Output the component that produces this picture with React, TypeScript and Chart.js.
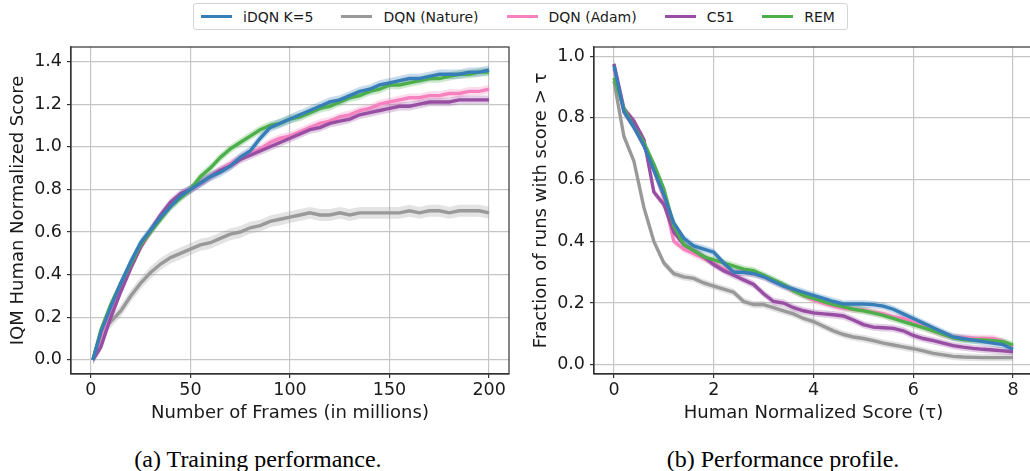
import React, { useEffect, useRef } from "react";
import { Chart, registerables } from "chart.js";
Chart.register(...registerables);

// ---------- data ----------
const SERIES_NAMES = ["iDQN K=5", "DQN (Nature)", "DQN (Adam)", "C51", "REM"];

const X_FRAMES = [1, 5, 10, 15, 20, 25, 30, 35, 40, 45, 50, 55, 60, 65, 70, 75, 80, 85, 90, 95, 100,
  105, 110, 115, 120, 125, 130, 135, 140, 145, 150, 155, 160, 165, 170, 175, 180, 185, 190, 195, 200];
const IQM_IDQN = [0.00, 0.13, 0.25, 0.36, 0.46, 0.55, 0.61, 0.67, 0.72, 0.77, 0.80, 0.83, 0.86, 0.88, 0.91, 0.95, 0.98, 1.04, 1.09, 1.11, 1.13,
  1.15, 1.17, 1.19, 1.21, 1.22, 1.24, 1.26, 1.27, 1.29, 1.30, 1.31, 1.32, 1.32, 1.33, 1.34, 1.34, 1.34, 1.35, 1.35, 1.36];
const IQM_NATURE = [0.00, 0.13, 0.18, 0.23, 0.30, 0.36, 0.41, 0.45, 0.48, 0.50, 0.52, 0.54, 0.55, 0.57, 0.59, 0.60, 0.62, 0.63, 0.65, 0.66, 0.67,
  0.68, 0.69, 0.68, 0.68, 0.69, 0.68, 0.69, 0.69, 0.69, 0.69, 0.69, 0.70, 0.69, 0.70, 0.70, 0.69, 0.70, 0.70, 0.70, 0.69];
const IQM_ADAM = [0.00, 0.10, 0.23, 0.34, 0.44, 0.53, 0.60, 0.67, 0.73, 0.77, 0.80, 0.83, 0.86, 0.89, 0.92, 0.95, 0.97, 0.99, 1.02, 1.04, 1.05,
  1.07, 1.09, 1.11, 1.12, 1.14, 1.15, 1.17, 1.18, 1.20, 1.21, 1.22, 1.23, 1.23, 1.24, 1.24, 1.25, 1.25, 1.26, 1.26, 1.27];
const IQM_C51 = [0.00, 0.06, 0.20, 0.32, 0.43, 0.53, 0.61, 0.68, 0.74, 0.78, 0.80, 0.83, 0.86, 0.89, 0.91, 0.94, 0.96, 0.98, 1.00, 1.02, 1.04,
  1.06, 1.08, 1.09, 1.11, 1.12, 1.13, 1.15, 1.16, 1.17, 1.18, 1.19, 1.19, 1.20, 1.21, 1.21, 1.21, 1.22, 1.22, 1.22, 1.22];
const IQM_REM = [0.00, 0.14, 0.26, 0.36, 0.45, 0.54, 0.60, 0.66, 0.72, 0.76, 0.80, 0.86, 0.90, 0.95, 0.99, 1.02, 1.05, 1.08, 1.10, 1.11, 1.13,
  1.14, 1.16, 1.18, 1.19, 1.21, 1.23, 1.24, 1.26, 1.27, 1.29, 1.29, 1.30, 1.31, 1.32, 1.32, 1.33, 1.34, 1.34, 1.35, 1.35];
// half-width of the shaded confidence band, per series (IDQN, NATURE, ADAM, C51, REM)
const IQM_CI = [0.022, 0.028, 0.02, 0.02, 0.02];

const TAU = [0, 0.2, 0.4, 0.6, 0.8, 1.0, 1.2, 1.4, 1.6, 1.8, 2.0, 2.2, 2.4, 2.6, 2.8, 3.0, 3.2, 3.4, 3.6, 3.8, 4.0,
  4.2, 4.4, 4.6, 4.8, 5.0, 5.2, 5.4, 5.6, 5.8, 6.0, 6.2, 6.4, 6.6, 6.8, 7.0, 7.2, 7.4, 7.6, 7.8, 8.0];
const PROF_IDQN = [0.97, 0.82, 0.77, 0.71, 0.63, 0.55, 0.46, 0.41, 0.385, 0.375, 0.365, 0.33, 0.30, 0.30, 0.295, 0.285, 0.27, 0.255, 0.245, 0.235, 0.225,
  0.215, 0.205, 0.197, 0.197, 0.197, 0.195, 0.19, 0.18, 0.165, 0.15, 0.135, 0.12, 0.105, 0.09, 0.085, 0.08, 0.075, 0.07, 0.065, 0.05];
const PROF_NATURE = [0.92, 0.74, 0.66, 0.51, 0.40, 0.33, 0.295, 0.285, 0.28, 0.265, 0.255, 0.245, 0.235, 0.205, 0.195, 0.195, 0.185, 0.175, 0.165, 0.15, 0.14,
  0.125, 0.11, 0.098, 0.09, 0.085, 0.078, 0.07, 0.064, 0.058, 0.052, 0.045, 0.037, 0.032, 0.027, 0.025, 0.024, 0.023, 0.023, 0.023, 0.023];
const PROF_ADAM = [0.96, 0.82, 0.77, 0.71, 0.63, 0.54, 0.40, 0.375, 0.36, 0.345, 0.33, 0.31, 0.30, 0.30, 0.295, 0.285, 0.27, 0.255, 0.24, 0.225, 0.21,
  0.20, 0.19, 0.183, 0.18, 0.178, 0.17, 0.165, 0.155, 0.15, 0.14, 0.125, 0.11, 0.098, 0.09, 0.088, 0.086, 0.085, 0.085, 0.075, 0.058];
const PROF_C51 = [0.975, 0.83, 0.79, 0.73, 0.56, 0.52, 0.43, 0.39, 0.37, 0.35, 0.325, 0.305, 0.29, 0.275, 0.26, 0.23, 0.205, 0.20, 0.185, 0.175, 0.168,
  0.165, 0.162, 0.158, 0.145, 0.13, 0.122, 0.12, 0.118, 0.11, 0.095, 0.085, 0.078, 0.07, 0.062, 0.057, 0.053, 0.05, 0.048, 0.045, 0.042];
const PROF_REM = [0.93, 0.83, 0.77, 0.72, 0.65, 0.57, 0.45, 0.39, 0.37, 0.35, 0.34, 0.33, 0.32, 0.31, 0.305, 0.29, 0.275, 0.26, 0.24, 0.225, 0.215,
  0.205, 0.195, 0.188, 0.18, 0.175, 0.168, 0.16, 0.15, 0.14, 0.13, 0.12, 0.11, 0.098, 0.088, 0.082, 0.08, 0.08, 0.078, 0.075, 0.064];
const PROF_CI = [0.012, 0.012, 0.012, 0.012, 0.012];

const X_TICKS_LEFT = [0, 50, 100, 150, 200];
const Y_TICKS_LEFT = [0.0, 0.2, 0.4, 0.6, 0.8, 1.0, 1.2, 1.4];
const X_TICKS_RIGHT = [0, 2, 4, 6, 8];
const Y_TICKS_RIGHT = [0.0, 0.2, 0.4, 0.6, 0.8, 1.0];

// ---------- style ----------
const COLORS = ["#377eb8", "#999999", "#f781bf", "#984ea3", "#4daf4a"];
const FONT = "'DejaVu Sans', sans-serif";
const GRID = "#c6c6c6";
const AXIS = "#333333";
const TEXT = "#1a1a1a";

function withAlpha(hex: string, a: number) {
  const r = parseInt(hex.slice(1, 3), 16), g = parseInt(hex.slice(3, 5), 16), b = parseInt(hex.slice(5, 7), 16);
  return `rgba(${r},${g},${b},${a})`;
}

const framePlugin = {
  id: "frame",
  afterDraw(chart: any) {
    const { ctx, chartArea: a } = chart;
    ctx.save();
    ctx.strokeStyle = AXIS;
    ctx.lineWidth = 1.2;
    ctx.strokeRect(a.left, a.top, a.right - a.left, a.bottom - a.top);
    ctx.restore();
  },
};

// draw order: index 0 on top
const DRAW_ORDER = [0, 4, 3, 2, 1];

function buildDatasets(xs: number[], values: number[][], ci: number[]) {
  const lines: any[] = [];
  const bands: any[] = [];
  DRAW_ORDER.forEach((si, rank) => {
    const vals = values[si];
    lines.push({
      label: SERIES_NAMES[si],
      data: xs.map((x, j) => ({ x, y: vals[j] })),
      borderColor: COLORS[si],
      backgroundColor: COLORS[si],
      borderWidth: 3.4,
      pointRadius: 0,
      fill: false,
      tension: 0,
      order: rank,
    });
  });
  DRAW_ORDER.forEach((si) => {
    const vals = values[si];
    bands.push({
      label: "",
      data: xs.map((x, j) => ({ x, y: vals[j] + ci[si] })),
      borderColor: "transparent",
      borderWidth: 0,
      pointRadius: 0,
      backgroundColor: withAlpha(COLORS[si], 0.28),
      fill: "+1",
      order: 100,
    });
    bands.push({
      label: "",
      data: xs.map((x, j) => ({ x, y: vals[j] - ci[si] })),
      borderColor: "transparent",
      borderWidth: 0,
      pointRadius: 0,
      fill: false,
      order: 100,
    });
  });
  return [...lines, ...bands];
}

function axisOpts(min: number, max: number, ticks: number[], title: string, horizontal: boolean, fmt: (v: number) => string) {
  return {
    type: "linear",
    min,
    max,
    afterBuildTicks: (s: any) => {
      s.ticks = ticks.map((v) => ({ value: v }));
    },
    afterFit: (s: any) => {
      if (horizontal) s.height = 50;
      else s.width = 71;
    },
    grid: { color: GRID, lineWidth: 1.2, drawTicks: true, tickLength: 4, tickColor: AXIS, tickWidth: 1.2 },
    border: { color: AXIS, width: 1.2 },
    ticks: {
      font: { size: 17.5, family: FONT },
      color: TEXT,
      padding: horizontal ? 2 : 5,
      autoSkip: false,
      maxRotation: 0,
      callback: (v: any) => fmt(Number(v)),
    },
    title: {
      display: true,
      text: title,
      font: { size: 18, family: FONT },
      color: TEXT,
      padding: horizontal ? { top: 0, bottom: 0 } : { top: 7.5, bottom: 0 },
    },
  };
}

function makeConfig(datasets: any[], x: any, y: any, padRight: number) {
  return {
    type: "line",
    data: { datasets },
    options: {
      animation: false,
      responsive: false,
      maintainAspectRatio: false,
      devicePixelRatio: 1,
      layout: { padding: { top: 47, right: padRight, left: 0, bottom: 0 } },
      plugins: {
        legend: { display: false },
        tooltip: { enabled: false },
        filler: { propagate: false, drawTime: "beforeDatasetsDraw" },
      },
      elements: { point: { radius: 0 } },
      scales: { x, y },
    },
    plugins: [framePlugin],
  };
}

function ChartCanvas(props: { build: () => any; left: number; width: number; height: number }) {
  const ref = useRef<HTMLCanvasElement | null>(null);
  useEffect(() => {
    const chart = new Chart(ref.current as HTMLCanvasElement, props.build());
    return () => chart.destroy();
  }, []);
  return (
    <canvas
      ref={ref}
      width={props.width}
      height={props.height}
      style={{ position: "absolute", left: props.left, top: 0, width: props.width, height: props.height }}
    />
  );
}

const buildLeft = () =>
  makeConfig(
    buildDatasets(X_FRAMES, [IQM_IDQN, IQM_NATURE, IQM_ADAM, IQM_C51, IQM_REM], IQM_CI),
    axisOpts(-10, 210, X_TICKS_LEFT, "Number of Frames (in millions)", true, (v) => String(v)),
    axisOpts(-0.066, 1.468, Y_TICKS_LEFT, "IQM Human Normalized Score", false, (v) => v.toFixed(1)),
    6
  );

const buildRight = () =>
  makeConfig(
    buildDatasets(TAU, [PROF_IDQN, PROF_NATURE, PROF_ADAM, PROF_C51, PROF_REM], PROF_CI),
    axisOpts(-0.4, 8.4, X_TICKS_RIGHT, "Human Normalized Score (τ)", true, (v) => String(v)),
    axisOpts(-0.03, 1.03, Y_TICKS_RIGHT, "Fraction of runs with score > τ", false, (v) => v.toFixed(1)),
    10
  );

function Legend() {
  return (
    <div
      style={{
        position: "absolute",
        left: 193,
        top: 3,
        width: 655,
        height: 27,
        boxSizing: "border-box",
        border: "1px solid #d4d4d4",
        borderRadius: 3,
        display: "flex",
        alignItems: "center",
        paddingLeft: 7,
        background: "#fff",
        fontFamily: FONT,
        fontSize: 14,
        color: TEXT,
        whiteSpace: "nowrap",
      }}
    >
      {SERIES_NAMES.map((name, i) => (
        <div key={name} style={{ display: "flex", alignItems: "center", marginRight: i < SERIES_NAMES.length - 1 ? 28 : 0 }}>
          <div style={{ width: 31, height: 3.5, background: COLORS[i], marginRight: 11 }} />
          <span>{name}</span>
        </div>
      ))}
    </div>
  );
}

const CAPTION_STYLE: React.CSSProperties = {
  position: "absolute",
  top: 446,
  width: 400,
  textAlign: "center",
  fontFamily: "'Liberation Serif', 'Times New Roman', serif",
  fontSize: 24,
  lineHeight: "26px",
  color: "#000",
};

export default function App() {
  return (
    <div style={{ position: "absolute", left: 0, top: 0, width: 1030, height: 471, overflow: "hidden", background: "#fff" }}>
      <ChartCanvas build={buildLeft} left={0} width={515} height={424} />
      <ChartCanvas build={buildRight} left={523} width={520} height={424} />
      <Legend />
      <div style={{ ...CAPTION_STYLE, left: 258 - 200 }}>(a) Training performance.</div>
      <div style={{ ...CAPTION_STYLE, left: 783 - 200 }}>(b) Performance profile.</div>
    </div>
  );
}
